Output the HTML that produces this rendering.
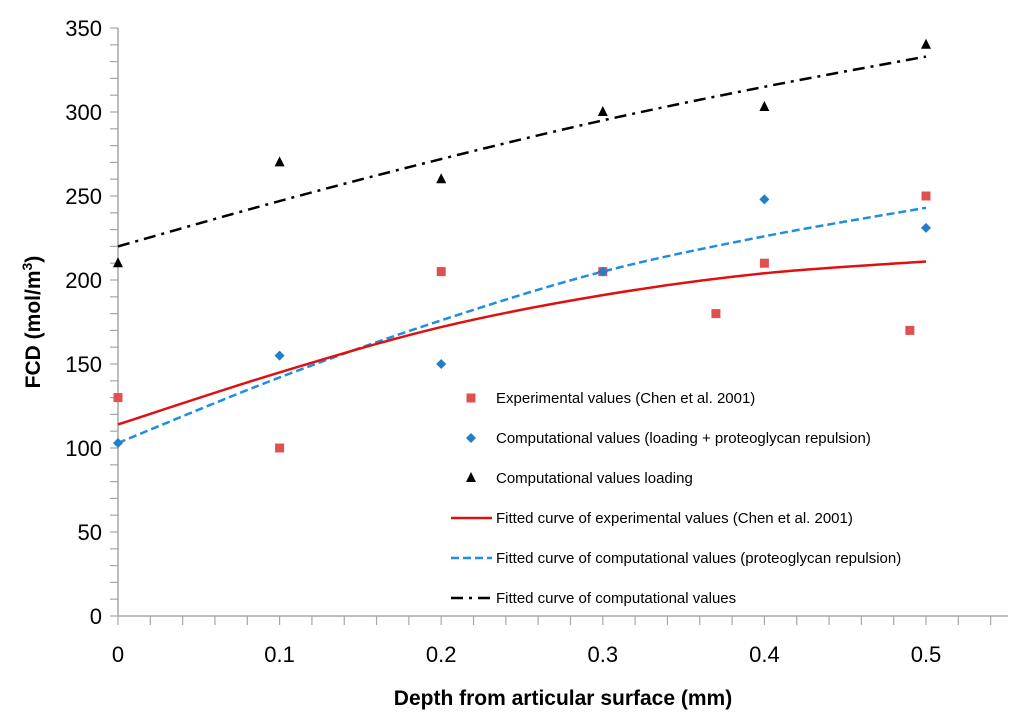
<!DOCTYPE html>
<html><head><meta charset="utf-8"><style>
body{margin:0;background:#fff;font-family:"Liberation Sans",sans-serif}
</style></head><body>
<svg id="chart" width="1024" height="721" xmlns="http://www.w3.org/2000/svg" font-family="Liberation Sans, sans-serif"></svg>
<script>
const expX=[0,0.1,0.2,0.3,0.37,0.4,0.49,0.5];
const expY=[130,100,205,205,180,210,170,250];
const compX=[0,0.1,0.2,0.3,0.4,0.5];
const compY=[103,155,150,205,248,231];
const loadX=[0,0.1,0.2,0.3,0.4,0.5];
const loadY=[210,270,260,300,303,340];
const fitX=[0,0.1,0.2,0.3,0.4,0.5];
const fitExp=[114,145,172,191,204,211];
const fitComp=[103,142,176,205,226,243];
const fitLoad=[220,247,272,295,315,333];
const xTicks=["0","0.1","0.2","0.3","0.4","0.5"];
const yTicks=[0,50,100,150,200,250,300,350];

const svg=document.getElementById('chart');
const NS='http://www.w3.org/2000/svg';
const X=v=>118+v*1616, Y=v=>616-v*1.68;
function el(t,a,parent){const e=document.createElementNS(NS,t);for(const k in a)e.setAttribute(k,a[k]);(parent||svg).appendChild(e);return e;}
let ax=el('line',{x1:118,y1:616,x2:1008,y2:616,stroke:'#a6a6a6','stroke-width':1.5});


let ay=el('line',{x1:118,y1:28,x2:118,y2:616,stroke:'#a6a6a6','stroke-width':1.5});


for(let i=0;i<=27;i++){const x=X(i*0.02);el('line',{x1:x,y1:616,x2:x,y2:625,stroke:'#a6a6a6','stroke-width':1.2});}
for(let i=0;i<=35;i++){const y=Y(i*10);el('line',{x1:110,y1:y,x2:118,y2:y,stroke:'#a6a6a6','stroke-width':1.2});}
xTicks.forEach((s,i)=>{const t=el('text',{x:X(i*0.1),y:662,'text-anchor':'middle','font-size':22,fill:'#000'});t.textContent=s;

});
yTicks.forEach(v=>{const t=el('text',{x:102,y:Y(v)+8,'text-anchor':'end','font-size':22,fill:'#000'});t.textContent=v;

});
let xt=el('text',{x:563,y:705,'text-anchor':'middle','font-size':21,'font-weight':'bold'});xt.textContent='Depth from articular surface (mm)';


let yt=el('text',{x:0,y:0,'text-anchor':'middle','font-size':21,'font-weight':'bold',transform:'translate(40,322) rotate(-90)'});
yt.innerHTML='FCD (mol/m<tspan font-size="14" dy="-8">3</tspan><tspan dy="8">)</tspan>';


function curve(ys,color,dash,name){
const P=fitX.map((x,i)=>[X(x),Y(ys[i])]);
let d='M'+P[0][0]+' '+P[0][1];
for(let i=0;i<P.length-1;i++){const p0=P[Math.max(i-1,0)],p1=P[i],p2=P[i+1],p3=P[Math.min(i+2,P.length-1)];
const c1=[p1[0]+(p2[0]-p0[0])/6,p1[1]+(p2[1]-p0[1])/6],c2=[p2[0]-(p3[0]-p1[0])/6,p2[1]-(p3[1]-p1[1])/6];
d+=` C${c1[0]} ${c1[1]} ${c2[0]} ${c2[1]} ${p2[0]} ${p2[1]}`;}
const p=el('path',{d:d,fill:'none',stroke:color,'stroke-width':2.5,'stroke-dasharray':dash});

}
curve(fitLoad,'#000','12,6,3,6','fitted-curve-computational');
curve(fitComp,'#1f8de0','8,4','fitted-curve-proteoglycan');
curve(fitExp,'#e01010','none','fitted-curve-experimental');
function sq(x,y,c){return el('rect',{x:x-4.5,y:y-4.5,width:9,height:9,fill:c});}
function dia(x,y,c){return el('polygon',{points:`${x},${y-5} ${x+5},${y} ${x},${y+5} ${x-5},${y}`,fill:c});}
function tri(x,y,c){return el('polygon',{points:`${x},${y-6} ${x+5},${y+4} ${x-5},${y+4}`,fill:c});}
expX.forEach((x,i)=>{const m=sq(X(x),Y(expY[i]),'#e05050');

});
compX.forEach((x,i)=>{const m=dia(X(x),Y(compY[i]),'#1f7fc8');

});
loadX.forEach((x,i)=>{const m=tri(X(x),Y(loadY[i]),'#000');

});
const leg=[['sq','#e05050','Experimental values (Chen et al. 2001)'],['dia','#1f7fc8','Computational values (loading + proteoglycan repulsion)'],['tri','#000','Computational values loading'],['line','#e01010','Fitted curve of experimental values (Chen et al. 2001)','none'],['line','#1f8de0','Fitted curve of computational values (proteoglycan repulsion)','8,4'],['line','#000','Fitted curve of computational values','12,6,3,6']];
leg.forEach((l,i)=>{const y=398+i*40;
if(l[0]==='sq')sq(471,y,l[1]);else if(l[0]==='dia')dia(471,y,l[1]);else if(l[0]==='tri')tri(471,y,l[1]);
else el('line',{x1:451,y1:y,x2:492,y2:y,stroke:l[1],'stroke-width':2.5,'stroke-dasharray':l[3]});
const t=el('text',{x:496,y:y+5,'font-size':15,fill:'#000'});t.textContent=l[2];

});
</script>
</body></html>
